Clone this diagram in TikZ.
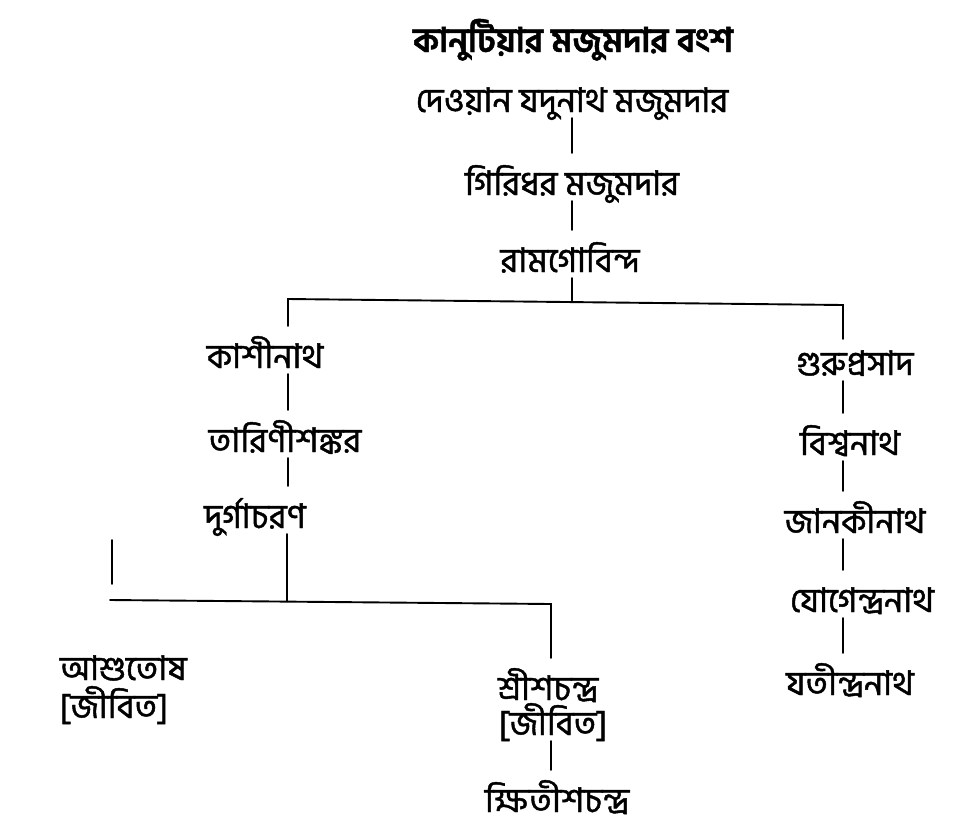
\documentclass[tikz,border=0pt]{standalone}
\usepackage{fontspec}
\setmainfont[Script=Bengali, FakeBold=1.3]{Hind Siliguri}
\newfontfamily\ttlfont[Script=Bengali]{Hind Siliguri Bold}
\usetikzlibrary{calc}
\begin{document}
\begin{tikzpicture}[x=1pt,y=-1pt,
  nm/.style={inner sep=0pt, outer sep=0pt, anchor=base, text height=42pt, text depth=6pt, font=\fontsize{34}{40}\selectfont},
  ttl/.style={inner sep=0pt, anchor=base, font=\fontsize{34}{40}\selectfont\bfseries},
  ln/.style={line width=1.9pt, line cap=round, line join=miter}]
\useasboundingbox (0,0) rectangle (975,836);
\node[ttl] (title) at (573,52) {কানুটিয়ার মজুমদার বংশ};
\node[nm] (dewan) at (572,112) {দেওয়ান যদুনাথ মজুমদার};
\node[nm] (giri) at (572,195) {গিরিধর মজুমদার};
\node[nm] (ram) at (570,272) {রামগোবিন্দ};
\node[nm] (kashi) at (265,368) {কাশীনাথ};
\node[nm] (tarini) at (285,452) {তারিণীশঙ্কর};
\node[nm] (durga) at (255,528) {দুর্গাচরণ};
\node[nm, anchor=base west] (ashu) at (60,680) {আশুতোষ};
\node[nm, anchor=base west] (ashuj) at (60,718) {[জীবিত]};
\node[nm] (srish) at (548,700) {শ্রীশচন্দ্র};
\node[nm] (srishj) at (553,735) {[জীবিত]};
\node[nm] (kshiti) at (557,812) {ক্ষিতীশচন্দ্র};
\node[nm] (guru) at (855,375) {গুরুপ্রসাদ};
\node[nm] (bishwa) at (850,455) {বিশ্বনাথ};
\node[nm] (janaki) at (855,533) {জানকীনাথ};
\node[nm] (yogen) at (862,612) {যোগেন্দ্রনাথ};
\node[nm] (jatin) at (850,695) {যতীন্দ্রনাথ};
\coordinate (t) at (572,0);
\coordinate (b1L) at (288,299);
\coordinate (b1M) at (572,300.5);
\coordinate (b1R) at (843,305);
\coordinate (b2L) at (110,600);
\coordinate (b2M) at (287,601.5);
\coordinate (b2R) at (551,604);
\coordinate (s1) at (112,540);
\coordinate (s2) at (112,584);
\draw[ln] (dewan.south -| t) -- (giri.north -| t);
\draw[ln] (giri.south -| t) -- (ram.north -| t);
\draw[ln] (ram.south -| t) -- (b1M);
\draw[ln] (kashi.north -| b1L) -- (b1L) -- (b1R) -- ([yshift=-6pt]guru.north -| b1R);
\draw[ln] (kashi.south -| b1L) -- (tarini.north -| b1L);
\draw[ln] (tarini.south -| b1L) -- (durga.north -| b1L);
\draw[ln] (durga.south -| b2M) -- (b2M);
\draw[ln] (b2L) -- (b2R) -- (srish.north -| b2R);
\draw[ln] (s1) -- (s2);
\draw[ln] (srishj.south -| b2R) -- (kshiti.north -| b2R);
\draw[ln] (guru.south -| b1R) -- (bishwa.north -| b1R);
\draw[ln] (bishwa.south -| b1R) -- (janaki.north -| b1R);
\draw[ln] (janaki.south -| b1R) -- (yogen.north -| b1R);
\draw[ln] (yogen.south -| b1R) -- (jatin.north -| b1R);
\end{tikzpicture}
\end{document}
